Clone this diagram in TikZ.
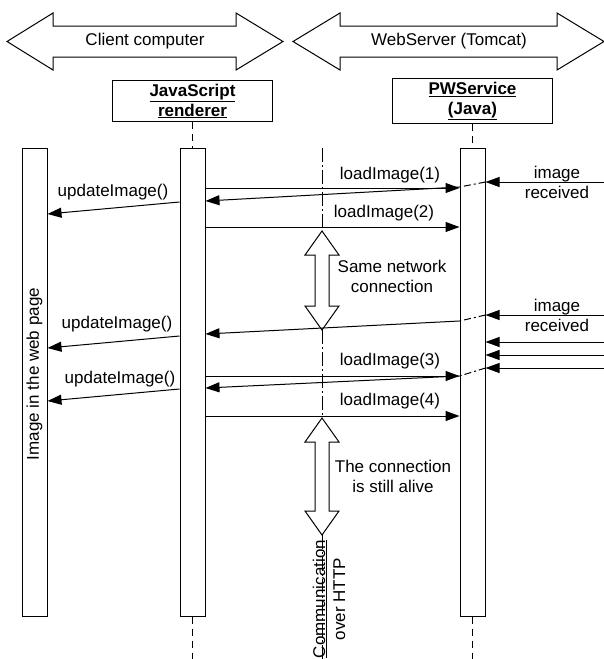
\documentclass[tikz,border=0pt]{standalone}
\usepackage{fontspec}
\setmainfont{Liberation Sans}
\usetikzlibrary{arrows.meta}

\tikzset{
  lbl/.style={font=\fontsize{17}{20}\selectfont, align=center, inner sep=0pt},
  obj/.style={draw, line width=1pt, minimum width=160pt, minimum height=41pt,
    align=center, font=\fontsize{17}{20}\selectfont\bfseries},
  bar/.style={draw, line width=1pt, fill=white, minimum width=25pt,
    minimum height=468pt, inner sep=0pt},
  msg/.style={line width=1pt, -{Triangle[length=14pt,width=10pt]}},
  lifeline/.style={line width=1pt, dash pattern=on 7pt off 5pt},
  httpline/.style={line width=1pt, dash pattern=on 14pt off 3pt on 2pt off 3pt},
  crossbar/.style={line width=1pt, dash pattern=on 7pt off 3pt on 2pt off 3pt},
  blockarrow/.style={draw, line width=1pt, fill=white, line join=miter},
}

\begin{document}
\begin{tikzpicture}[x=1pt,y=-1pt]
\useasboundingbox (0,0) rectangle (604,659);

% sides of the connection
\draw[blockarrow] (7,41.5) -- (53,13) -- (53,26) -- (236,26) -- (236,13) -- (283,41.5)
  -- (236,70) -- (236,57) -- (53,57) -- (53,70) -- cycle;
\node[lbl] (client) at (145,41.5) {Client computer};
\draw[blockarrow] (293,41.5) -- (340,13) -- (340,26) -- (557,26) -- (557,13) -- (604,41.5)
  -- (557,70) -- (557,57) -- (340,57) -- (340,70) -- cycle;
\node[lbl] (server) at (449,41.5) {WebServer (Tomcat)};

% objects
\node[obj] (jsbox) at (192.5,101) {\underline{JavaScript}\\\underline{renderer}};
\node[obj] (pwbox) at (472.5,101) {\underline{PWService}\\\underline{(Java)}};

% activation bars
\node[bar] (pagebar) at (34.5,382) {};
\node[lbl, rotate=90] (pagelbl) at (34.5,374) {Image in the web page};
\node[bar] (jsbar) at (192.5,382) {};
\node[bar] (pwbar) at (472.5,382) {};

\coordinate (jsend) at (192.5,659);
\coordinate (pwend) at (472.5,659);
\draw[lifeline] (jsbox.south) -- (jsbar.north);
\draw[lifeline] (jsbar.south) -- (jsend);
\draw[lifeline] (pwbox.south) -- (pwbar.north);
\draw[lifeline] (pwbar.south) -- (pwend);

% http connection
\coordinate (httptop) at (322,148);
\coordinate (httpend) at (322,659);
\coordinate (netA) at (322,231);
\coordinate (netB) at (322,330);
\coordinate (aliveA) at (322,418);
\coordinate (aliveB) at (322,535);
\draw[httpline] (httptop) -- (netA);
\draw[httpline] (netB) -- (aliveA);
\draw[httpline] (aliveB) -- (httpend);
\draw[blockarrow] (netA) -- (339,255) -- (329,255) -- (329,306) -- (339,306) -- (netB)
  -- (305,306) -- (315,306) -- (315,255) -- (305,255) -- cycle;
\node[lbl] (netlbl) at (392,276) {Same network\\connection};
\draw[blockarrow] (aliveA) -- (339,442) -- (329,442) -- (329,511) -- (339,511) -- (aliveB)
  -- (305,511) -- (315,511) -- (315,442) -- (305,442) -- cycle;
\node[lbl] (alivelbl) at (393,476) {The connection\\is still alive};
\node[lbl, rotate=90] (httplbl) at (329,599) {\underline{Communication}\\over HTTP};

% first request
\draw[msg] (jsbar.east |- 0,188) -- (pwbar.west |- 0,188);
\node[lbl] (load1) at (390,175) {loadImage(1)};
\coordinate (edge1) at (604,182);
\draw[msg] (edge1) -- (pwbar.east |- edge1);
\node[lbl] (recv1) at (557,182) {image\\received};
\draw[crossbar] (pwbar.east |- edge1) -- (pwbar.west |- 0,187);
\draw[msg] (pwbar.west |- 0,187) -- (jsbar.east |- 0,201);
\draw[msg] (jsbar.west |- 0,202) -- (pagebar.east |- 0,214);
\node[lbl] (upd1) at (113,192) {updateImage()};

% second request
\draw[msg] (jsbar.east |- 0,227) -- (pwbar.west |- 0,227);
\node[lbl] (load2) at (384,213) {loadImage(2)};
\coordinate (edge2) at (604,315);
\draw[msg] (edge2) -- (pwbar.east |- edge2);
\node[lbl] (recv2) at (557,315) {image\\received};
\draw[crossbar] (pwbar.east |- edge2) -- (pwbar.west |- 0,321);
\draw[msg] (pwbar.west |- 0,321) -- (jsbar.east |- 0,334);
\draw[msg] (jsbar.west |- 0,336) -- (pagebar.east |- 0,348);
\node[lbl] (upd2) at (117,324) {updateImage()};

% more images received
\coordinate (edge3) at (604,342);
\coordinate (edge4) at (604,355);
\coordinate (edge5) at (604,368);
\draw[msg] (edge3) -- (pwbar.east |- edge3);
\draw[msg] (edge4) -- (pwbar.east |- edge4);
\draw[msg] (edge5) -- (pwbar.east |- edge5);
\draw[crossbar] (pwbar.east |- edge5) -- (pwbar.west |- 0,376);

% third request
\draw[msg] (jsbar.east |- 0,376) -- (pwbar.west |- 0,376);
\node[lbl] (load3) at (390,361) {loadImage(3)};
\draw[msg] (pwbar.west |- 0,376) -- (jsbar.east |- 0,388);
\draw[msg] (jsbar.west |- 0,389) -- (pagebar.east |- 0,401);
\node[lbl] (upd3) at (120,379) {updateImage()};

% fourth request
\draw[msg] (jsbar.east |- 0,416) -- (pwbar.west |- 0,416);
\node[lbl] (load4) at (390,401) {loadImage(4)};

\end{tikzpicture}
\end{document}
